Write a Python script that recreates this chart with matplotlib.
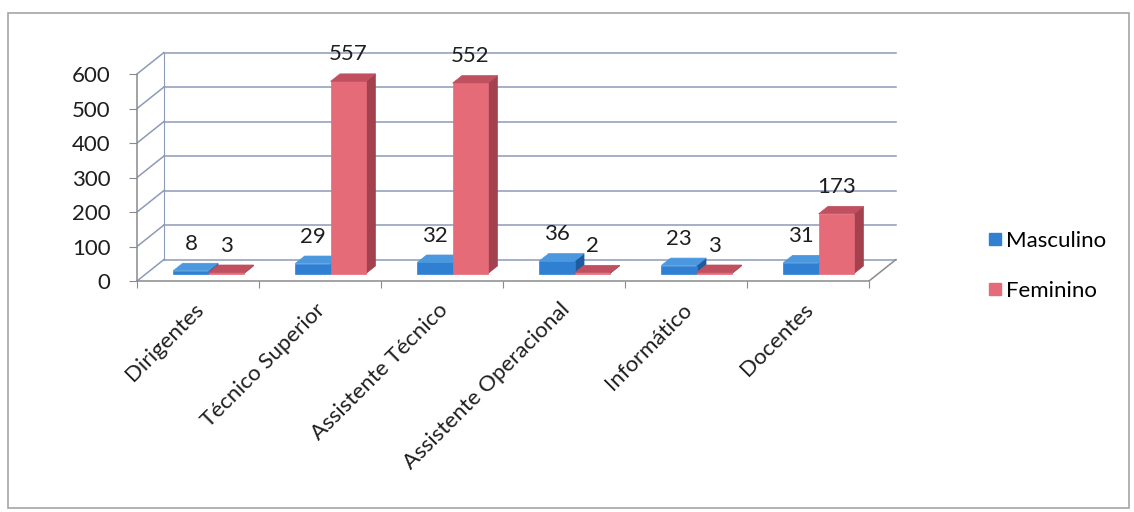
import matplotlib.pyplot as plt
from matplotlib.patches import Polygon, Rectangle
from matplotlib.lines import Line2D

plt.rcParams['font.family'] = ['Lato', 'DejaVu Sans']

# staff by category and sex
categories = ['Dirigentes', 'Técnico Superior', 'Assistente Técnico',
              'Assistente Operacional', 'Informático', 'Docentes']
masculino = [8, 29, 32, 36, 23, 31]
feminino = [3, 557, 552, 2, 3, 173]
yticks = [0, 100, 200, 300, 400, 500, 600]

# fake 3d look: depth vector of the walls (x in categories, y in values)
DX, DY = 0.22, 62
Z0, ZB = 0.35, 0.35          # bar front position / bar depth as part of the depth
BW = 0.29                    # bar width
grid_c = '#8d9ab8'
axis_c = '#8a8a8a'
txt_c = '#1e1e1e'
FS = 16

fig = plt.figure(figsize=(11.34, 5.12), dpi=100)
fig.patches.append(Rectangle((8 / 1134, 1 - 508 / 512), 1121 / 1134, 495 / 512,
                             transform=fig.transFigure, fill=False,
                             edgecolor='#a6a6a6', lw=1.2))
ax = fig.add_axes([137 / 1134, 1 - 281 / 512, 0.6778, 0.4582])
ax.set_xlim(0, 6.3)
ax.set_ylim(0, 680)
ax.patch.set_alpha(0)

# back wall gridlines + left wall
for v in yticks:
    ax.plot([DX, 6 + DX], [v + DY, v + DY], color=grid_c, lw=1.1, zorder=1)
    ax.plot([0, DX], [v, v + DY], color=grid_c, lw=1.1, zorder=1)
ax.plot([DX, DX], [DY, 600 + DY], color=grid_c, lw=0.8, zorder=1)
# floor right edge
ax.plot([6, 6 + DX], [0, DY], color=axis_c, lw=1.1, zorder=1)

colors = {
    'm': ('#2f80d2', '#4c98de', '#1d5c9e'),
    'f': ('#e66b79', '#c0505f', '#a3414f'),
}


def draw_bar(x, v, key):
    front, top, side = colors[key]
    x0 = x + Z0 * DX
    y0 = Z0 * DY
    ddx, ddy = ZB * DX, ZB * DY
    ax.add_patch(Polygon([(x0 + BW, y0), (x0 + BW + ddx, y0 + ddy),
                          (x0 + BW + ddx, y0 + ddy + v), (x0 + BW, y0 + v)],
                         closed=True, facecolor=side, edgecolor=side, lw=0.5, zorder=3))
    ax.bar(x0, v, bottom=y0, width=BW, align='edge', color=front,
           edgecolor=front, lw=0.5, zorder=4)
    ax.add_patch(Polygon([(x0, y0 + v), (x0 + BW, y0 + v),
                          (x0 + BW + ddx, y0 + v + ddy), (x0 + ddx, y0 + v + ddy)],
                         closed=True, facecolor=top, edgecolor=top, lw=0.5, zorder=4))
    ax.annotate(str(v), (x0 + BW / 2, y0 + v + ddy), xytext=(0, 14),
                textcoords='offset points', ha='center', va='center',
                fontsize=FS, color=txt_c, zorder=6)


for i in range(len(categories)):
    draw_bar(i + 0.22, masculino[i], 'm')
    draw_bar(i + 0.51, feminino[i], 'f')
    ax.text(i + 0.52, -74, categories[i], rotation=45, ha='right', va='center',
            rotation_mode='anchor', fontsize=FS, color=txt_c, clip_on=False)

for s in ['top', 'right']:
    ax.spines[s].set_visible(False)
ax.spines['left'].set_bounds(0, 600)
ax.spines['bottom'].set_bounds(0, 6)
ax.spines['left'].set_color(axis_c)
ax.spines['bottom'].set_color(axis_c)
ax.spines['left'].set_linewidth(1.1)
ax.spines['bottom'].set_linewidth(1.1)
ax.set_yticks(yticks)
ax.set_xticks(range(7))
ax.set_xticklabels([])
ax.tick_params(axis='y', length=6, color=axis_c, pad=13, labelsize=FS, labelcolor=txt_c)
ax.tick_params(axis='x', length=5, color=axis_c)

handles = [Line2D([], [], marker='s', ls='', markersize=9, color='#2f80d2'),
           Line2D([], [], marker='s', ls='', markersize=9, color='#e66b79')]
fig.legend(handles, ['Masculino', 'Feminino'], loc='center left',
           bbox_to_anchor=(964 / 1134, 1 - 266 / 512), frameon=False,
           fontsize=FS, labelspacing=1.35, handletextpad=0.0, handlelength=1.0)

fig.savefig('out.png', dpi=100)
